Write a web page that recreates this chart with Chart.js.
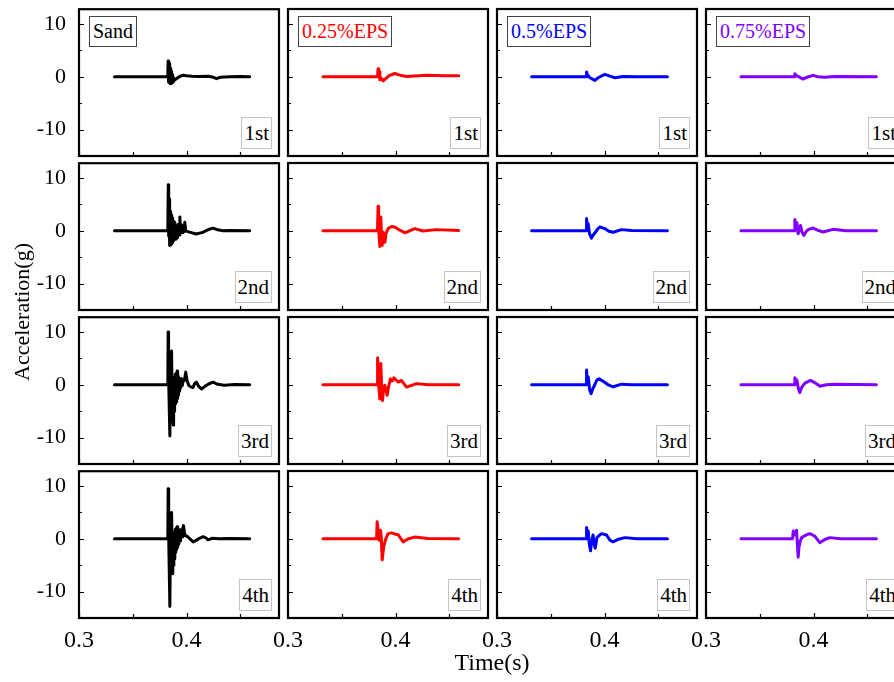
<!DOCTYPE html>
<html>
<head>
<meta charset="utf-8">
<script src="https://cdn.jsdelivr.net/npm/chart.js@4.4.1/dist/chart.umd.min.js"></script>
<style>
  body{ margin:0; background:#fff; overflow:hidden; }
  #fig{ position:relative; width:894px; height:682px; overflow:hidden; font-family:"Liberation Serif","Times New Roman",serif; color:#000; }
  #fig canvas{ position:absolute; }
  .tag{ position:absolute; background:#fff; white-space:nowrap; box-sizing:border-box; }
  .grp{ font-size:20px; height:31px; line-height:29px; padding:0 3px; border:1px solid #444; }
  .run{ font-size:21px; height:32px; line-height:31px; padding:0 2px; border:1px solid #c4c4c4; }
  .ttl{ position:absolute; white-space:nowrap; transform:translate(-50%,-50%); }
</style>
</head>
<body>
<div id="fig"></div>
<script>
"use strict";
/* 4x4 grid of acceleration time histories: columns = soil mix, rows = loading run.
   Each series is [time s, acceleration g]. */
const groups = ["Sand", "0.25%EPS", "0.5%EPS", "0.75%EPS"];
const groupColors = ["#000000", "#ff0000", "#0000ff", "#7f00ff"];
const runs = ["1st", "2nd", "3rd", "4th"];

const xTicks = [0.3, 0.35, 0.4, 0.45];
const xTickText = ["0.3", "", "0.4", ""];
const yTicks = [-10, -5, 0, 5, 10];
const yTickText = ["-10", "", "0", "", "10"];

const sand1 = [[0.333,0],[0.3825,0],[0.3829,3.0],[0.3833,-1.0],[0.3837,2.6],[0.3841,-1.2],[0.3845,2.2],[0.3849,-1.3],[0.3853,1.6],[0.3857,-1.2],[0.3861,1.0],[0.3866,-1.1],[0.3871,0.4],[0.3876,-0.9],[0.388,-0.2],[0.389,-0.6],[0.391,-0.3],[0.394,0.1],[0.397,0.3],[0.400,0.2],[0.405,0.1],[0.412,0.05],[0.420,0.1],[0.425,-0.1],[0.428,-0.35],[0.431,-0.1],[0.440,0],[0.450,0.05],[0.4588,0]];
const sand2 = [[0.333,0],[0.3826,0],[0.3830,8.7],[0.3834,-1.0],[0.3837,6.0],[0.3841,-2.8],[0.3845,4.2],[0.3849,-2.7],[0.3853,3.6],[0.3857,-2.5],[0.3861,3.0],[0.3865,-2.2],[0.3869,2.4],[0.3873,-2.0],[0.3877,1.8],[0.3881,-1.9],[0.3886,1.4],[0.3891,1.6],[0.3895,-1.6],[0.3900,1.0],[0.3905,-1.4],[0.3910,0.9],[0.3916,-1.3],[0.3922,1.2],[0.3930,-0.8],[0.3938,2.6],[0.3944,-0.5],[0.3950,1.2],[0.3958,-0.3],[0.3966,0.9],[0.3975,-0.2],[0.3984,1.6],[0.3992,0.0],[0.402,-0.2],[0.409,-0.6],[0.415,-0.3],[0.420,0.2],[0.4245,0.5],[0.429,0.2],[0.434,0.0],[0.440,0.05],[0.4588,0]];
const sand3 = [[0.333,0],[0.3826,0],[0.3829,10.0],[0.3833,1.5],[0.3845,-9.7],[0.3849,-2.0],[0.3861,6.4],[0.3865,-1.0],[0.3876,-7.6],[0.3880,0.5],[0.3884,-5.0],[0.3887,1.5],[0.3891,-4.2],[0.3895,2.0],[0.3899,-3.6],[0.3904,2.2],[0.3908,-3.2],[0.3913,2.6],[0.3917,-2.6],[0.3921,1.6],[0.3925,-2.0],[0.3930,1.0],[0.3934,-1.2],[0.3938,0.8],[0.3944,-0.6],[0.3952,1.2],[0.3960,-0.2],[0.3970,1.0],[0.3980,0.8],[0.3993,2.4],[0.4005,0.8],[0.4020,-0.1],[0.4040,-0.4],[0.4061,-0.5],[0.4075,0.2],[0.4093,0.5],[0.4110,-0.2],[0.4139,-0.8],[0.4170,-0.3],[0.4210,0.2],[0.4247,0.5],[0.4290,0.1],[0.4350,-0.1],[0.4450,0.05],[0.4588,0]];
const sand4 = [[0.333,0],[0.3826,0],[0.3829,9.5],[0.3834,0.5],[0.3845,-12.8],[0.3850,-1.0],[0.3861,5.0],[0.3866,-2.0],[0.3870,-6.6],[0.3874,0.5],[0.3878,-5.0],[0.3882,1.2],[0.3887,-3.8],[0.3891,-3.2],[0.3896,1.8],[0.3900,-2.6],[0.3905,2.0],[0.3909,-2.0],[0.3913,2.3],[0.3918,-1.6],[0.3923,1.4],[0.3928,-1.0],[0.3933,1.0],[0.3938,1.7],[0.3944,-0.4],[0.3950,1.6],[0.3958,0.4],[0.3966,2.0],[0.3972,2.5],[0.3980,1.2],[0.3990,0.6],[0.4010,0.4],[0.4030,0.0],[0.4061,-0.6],[0.4090,-0.3],[0.4120,0.1],[0.4155,0.4],[0.4185,0.1],[0.4200,-0.2],[0.4240,0.1],[0.4300,0.0],[0.4400,0.05],[0.4588,0]];

const eps25_1 = [[0.3325,0],[0.3832,0],[0.3838,1.5],[0.3843,0.2],[0.3848,1.0],[0.3854,-0.6],[0.3865,-0.2],[0.3885,-0.8],[0.3901,-0.5],[0.3940,0.2],[0.3993,0.6],[0.4040,0.3],[0.4102,0.05],[0.4179,0.15],[0.4300,0.25],[0.4450,0.2],[0.4588,0.2]];
const eps25_2 = [[0.3325,0],[0.3832,0],[0.3838,4.6],[0.3843,0.5],[0.3854,-3.0],[0.3863,2.6],[0.3870,-1.0],[0.3876,-2.8],[0.3885,-0.3],[0.3901,-2.2],[0.3912,-0.5],[0.3931,0.4],[0.3963,0.8],[0.3993,0.7],[0.4040,0.1],[0.4086,-0.4],[0.4179,0.4],[0.4256,-0.05],[0.4380,0.2],[0.4588,0.05]];
const eps25_3 = [[0.3325,0],[0.3828,0],[0.3833,5.1],[0.3840,0.8],[0.3854,-2.7],[0.3863,4.0],[0.3870,0.0],[0.3879,-3.0],[0.3890,-0.5],[0.3901,-0.1],[0.3922,-2.0],[0.3935,-0.4],[0.3953,1.1],[0.3970,0.7],[0.3984,1.3],[0.4024,0.5],[0.4055,0.8],[0.4102,-0.45],[0.4195,0.2],[0.4300,0.0],[0.4588,0.0]];
const eps25_4 = [[0.3325,0],[0.3824,0],[0.3829,3.2],[0.3848,-0.3],[0.3860,1.6],[0.3868,0.2],[0.3876,-4.0],[0.3890,-1.5],[0.3910,0.0],[0.3931,0.95],[0.3963,1.1],[0.3990,0.9],[0.4024,0.75],[0.4071,-0.6],[0.4120,0.0],[0.4179,0.3],[0.4300,0.05],[0.4588,0.0]];

const eps50_1 = [[0.3322,0],[0.3828,0],[0.3833,0.9],[0.3840,0.4],[0.3864,-0.2],[0.3910,-0.7],[0.3940,-0.2],[0.4003,0.45],[0.4050,0.1],[0.4096,-0.2],[0.4173,0.05],[0.4300,0.0],[0.4585,0.0]];
const eps50_2 = [[0.3322,0],[0.3828,0],[0.3833,2.3],[0.3840,0.6],[0.3848,1.3],[0.3860,-0.5],[0.3879,-1.4],[0.3895,-0.8],[0.3910,-0.45],[0.3935,0.3],[0.3956,0.7],[0.4003,0.4],[0.4040,-0.1],[0.4080,-0.3],[0.4158,0.2],[0.4250,0.05],[0.4585,0.0]];
const eps50_3 = [[0.3322,0],[0.3828,0],[0.3833,2.8],[0.3840,0.3],[0.3848,1.5],[0.3862,-1.0],[0.3875,-1.7],[0.3890,-0.8],[0.3905,-0.2],[0.3930,0.9],[0.3950,1.1],[0.3990,0.6],[0.4040,-0.1],[0.4080,-0.4],[0.4160,0.1],[0.4250,0.0],[0.4585,0.0]];
const eps50_4 = [[0.3322,0],[0.3828,0],[0.3833,2.1],[0.3840,1.0],[0.3848,1.45],[0.3858,-1.0],[0.3870,-2.3],[0.3880,-0.4],[0.3894,0.7],[0.3903,-1.0],[0.3913,-1.8],[0.3930,0.2],[0.3950,0.6],[0.3972,0.95],[0.4019,0.7],[0.4050,-0.3],[0.4080,-0.6],[0.4130,-0.1],[0.4189,0.2],[0.4300,0.0],[0.4585,0.0]];

const eps75_1 = [[0.3325,0],[0.3820,0],[0.3826,0.55],[0.3840,0.2],[0.3870,-0.1],[0.3903,-0.45],[0.3940,-0.1],[0.3996,0.25],[0.4040,0.0],[0.4100,-0.1],[0.4200,0.05],[0.4585,0.0]];
const eps75_2 = [[0.3325,0],[0.3820,0],[0.3826,2.1],[0.3835,1.0],[0.3845,1.5],[0.3857,-0.6],[0.3868,0.3],[0.3879,1.0],[0.3895,-0.4],[0.3910,-0.9],[0.3930,-0.2],[0.3950,0.2],[0.3996,0.5],[0.4043,0.06],[0.4089,-0.25],[0.4182,0.25],[0.4300,0.0],[0.4585,0.0]];
const eps75_3 = [[0.3325,0],[0.3820,0],[0.3826,1.3],[0.3835,0.5],[0.3845,0.9],[0.3860,-0.8],[0.3872,-1.5],[0.3890,-0.5],[0.3920,0.3],[0.3970,0.8],[0.4010,0.4],[0.4060,-0.3],[0.4120,0.0],[0.4200,0.1],[0.4585,0.0]];
const eps75_4 = [[0.3325,0],[0.3806,0],[0.3811,1.45],[0.3826,0.7],[0.3842,1.6],[0.3850,-1.0],[0.3857,-3.5],[0.3865,-1.5],[0.3875,-0.6],[0.3889,0.2],[0.3930,0.7],[0.3966,0.95],[0.4012,0.5],[0.4058,-0.75],[0.4100,-0.2],[0.4151,0.2],[0.4250,0.0],[0.4585,0.0]];

const series = [
  [sand1, eps25_1, eps50_1, eps75_1],
  [sand2, eps25_2, eps50_2, eps75_2],
  [sand3, eps25_3, eps50_3, eps75_3],
  [sand4, eps25_4, eps50_4, eps75_4]
];

// panel grid layout (px)
const L0 = 79, T0 = 9, DX = 209, DY = 154, PW = 200, PH = 147;
const AXW = 79, AXH = 36, PADT = 18, PADR = 8;
const FONT = "'Liberation Serif', 'Times New Roman', serif";

const fig = document.getElementById("fig");

const frame = {
  id: "frame",
  afterDraw(chart){
    const { ctx, chartArea: a, scales: { x, y } } = chart;
    ctx.save();
    ctx.strokeStyle = "#000"; ctx.lineWidth = 1.2;
    ctx.beginPath();
    xTicks.forEach((v, i) => {
      const px = Math.round(x.getPixelForValue(v)) + 0.5, len = xTickText[i] ? 5 : 4;
      ctx.moveTo(px, a.bottom); ctx.lineTo(px, a.bottom - len);
    });
    yTicks.forEach((v, i) => {
      const py = Math.round(y.getPixelForValue(v)) + 0.5, len = yTickText[i] ? 5 : 3;
      ctx.moveTo(a.left, py); ctx.lineTo(a.left + len, py);
    });
    ctx.stroke();
    ctx.lineWidth = 2.2;
    ctx.strokeRect(a.left, a.top, a.right - a.left, a.bottom - a.top);
    ctx.restore();
  }
};

function panel(r, c){
  const pl = L0 + c*DX, pt = T0 + r*DY;
  const cv = document.createElement("canvas");
  const w = AXW + PW + PADR, h = PADT + PH + AXH;
  cv.width = w; cv.height = h;
  cv.style.left = (pl - AXW) + "px"; cv.style.top = (pt - PADT) + "px";
  cv.style.width = w + "px"; cv.style.height = h + "px";
  fig.appendChild(cv);
  new Chart(cv, {
    type: "line",
    data: { datasets: [{
      data: series[r][c].map(p => ({ x: p[0], y: p[1] })),
      borderColor: groupColors[c], borderWidth: 3, pointRadius: 0, tension: 0,
      borderJoinStyle: "round", borderCapStyle: "round"
    }]},
    options: {
      responsive: false, animation: false, events: [],
      layout: { padding: { top: PADT, right: PADR, left: 0, bottom: 0 } },
      plugins: { legend: { display: false }, tooltip: { enabled: false } },
      scales: {
        x: { type: "linear", min: 0.3, max: 0.486,
          grid: { display: false }, border: { display: false },
          afterBuildTicks: s => { s.ticks = xTicks.map(v => ({ value: v })); },
          afterFit: s => { s.height = AXH; },
          ticks: { display: r === 3, autoSkip: false, maxRotation: 0, padding: 0, color: "#000",
            font: { family: FONT, size: 24 }, callback: (v, i) => xTickText[i] } },
        y: { type: "linear", min: -15, max: 12.8,
          grid: { display: false }, border: { display: false },
          afterBuildTicks: s => { s.ticks = yTicks.map(v => ({ value: v })); },
          afterFit: s => { s.width = AXW; },
          ticks: { display: c === 0, autoSkip: false, padding: 5, color: "#000",
            font: { family: FONT, size: 22 }, callback: (v, i) => yTickText[i] } }
      }
    },
    plugins: [frame]
  });

  if(r === 0){
    const g = document.createElement("div");
    g.className = "tag grp"; g.textContent = groups[c];
    g.style.left = (pl + 10) + "px"; g.style.top = (pt + 7) + "px"; g.style.color = groupColors[c];
    fig.appendChild(g);
  }
  const t = document.createElement("div");
  t.className = "tag run"; t.textContent = runs[r];
  t.style.right = (894 - (pl + PW - 7)) + "px"; t.style.top = (pt + PH - 7 - 32) + "px";
  fig.appendChild(t);
}

for(let r = 0; r < 4; r++) for(let c = 0; c < 4; c++) panel(r, c);

const yt = document.createElement("div");
yt.className = "ttl"; yt.textContent = "Acceleration(g)";
yt.style.fontSize = "22px"; yt.style.left = "22px"; yt.style.top = "312px";
yt.style.transform = "translate(-50%,-50%) rotate(-90deg)";
fig.appendChild(yt);

const xt = document.createElement("div");
xt.className = "ttl"; xt.textContent = "Time(s)";
xt.style.fontSize = "24px"; xt.style.left = "492px"; xt.style.top = "662px";
fig.appendChild(xt);
</script>
</body>
</html>
